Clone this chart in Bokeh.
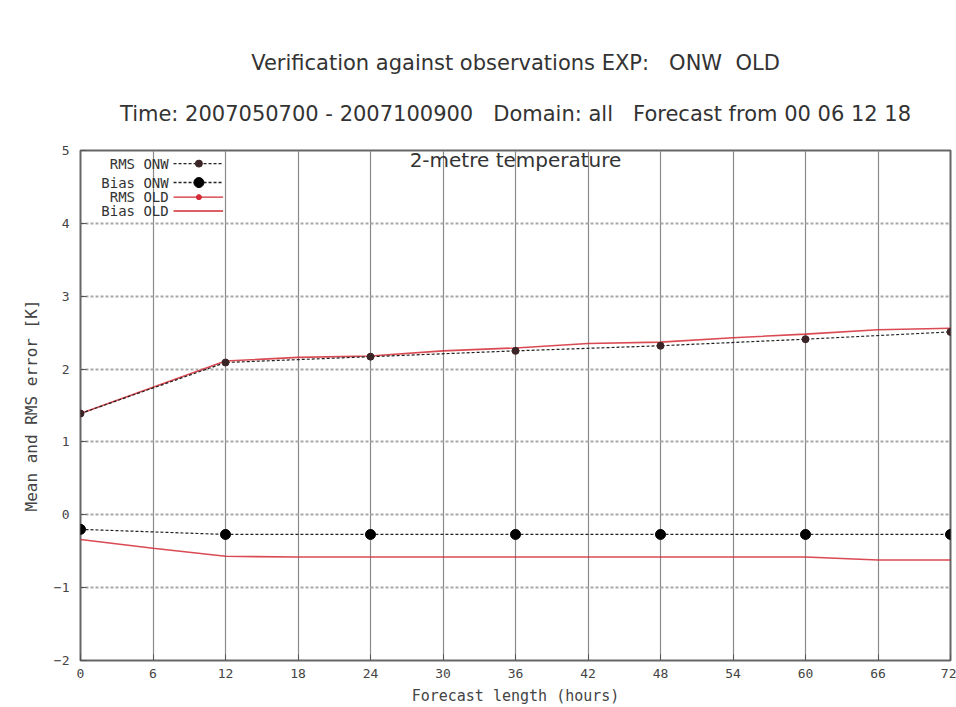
from bokeh.plotting import figure
from bokeh.models import Range1d, FixedTicker, Title, Label, ColumnDataSource
from bokeh.core.properties import value
from bokeh.embed import file_html
from bokeh.resources import INLINE

# ---- data ----
hours_onw = [0, 12, 24, 36, 48, 60, 72]
rms_onw = [1.39, 2.09, 2.17, 2.25, 2.32, 2.41, 2.51]
bias_onw = [-0.20, -0.27, -0.27, -0.27, -0.27, -0.27, -0.27]

hours_old = [0, 6, 12, 18, 24, 30, 36, 42, 48, 54, 60, 66, 72]
rms_old = [1.39, 1.75, 2.11, 2.16, 2.18, 2.25, 2.29, 2.35, 2.37, 2.43, 2.48, 2.54, 2.56]
bias_old = [-0.34, -0.46, -0.57, -0.58, -0.58, -0.58, -0.58, -0.58, -0.58, -0.58, -0.58, -0.62, -0.62]

x_ticks = [0, 6, 12, 18, 24, 30, 36, 42, 48, 54, 60, 66, 72]
y_ticks = [-2, -1, 0, 1, 2, 3, 4, 5]

legend_labels = ["RMS ONW", "Bias ONW", "RMS OLD", "Bias OLD"]

NB = "\u00a0"
title1 = "Verification against observations EXP:" + NB * 3 + "ONW" + NB * 2 + "OLD"
title2 = ("Time: 2007050700 - 2007100900" + NB * 3 + "Domain: all" + NB * 3 +
          "Forecast from 00 06 12 18")
subtitle = "2-metre temperature"
xlabel = "Forecast length (hours)"
ylabel = "Mean and RMS error [K]"

MONO = "DejaVu Sans Mono"
SANS = "DejaVu Sans"
RED = "#d42a35"

p = figure(width=956, height=707, output_backend="svg", toolbar_location=None,
           x_range=Range1d(0, 72), y_range=Range1d(-2, 5),
           min_border_left=80, min_border_right=6, min_border_top=150, min_border_bottom=47)

# outer title line
p.title.text = title1
p.title.align = "center"
p.title.text_font = SANS
p.title.text_font_size = "21px"
p.title.text_font_style = "normal"
p.title.text_color = "#333333"
p.title.standoff = 0
# inner title line (closest to the frame)
p.add_layout(Title(text=title2, align="center", text_font=SANS, text_font_size="21px",
                   text_font_style="normal", text_color="#333333", standoff=50), "above")

p.outline_line_color = "#666666"
p.outline_line_width = 2

for ax in (p.xaxis, p.yaxis):
    ax.axis_line_color = None
    ax.major_tick_in = 6
    ax.major_tick_out = 0
    ax.minor_tick_line_color = None
    ax.major_tick_line_color = "#555555"
    ax.major_label_text_font = MONO
    ax.major_label_text_font_size = "13px"
    ax.major_label_text_color = "#444444"
    ax.axis_label_text_font = MONO
    ax.axis_label_text_font_size = "15px"
    ax.axis_label_text_font_style = "normal"
    ax.axis_label_text_color = "#444444"

p.yaxis.axis_label_text_font_size = "16px"
p.xaxis.ticker = FixedTicker(ticks=x_ticks)
p.yaxis.ticker = FixedTicker(ticks=y_ticks)
p.xaxis.major_label_standoff = 8
p.yaxis.major_label_standoff = 11
p.xaxis.axis_label = xlabel
p.yaxis.axis_label = ylabel
p.xaxis.axis_label_standoff = 6
p.yaxis.axis_label_standoff = 10

p.xgrid.ticker = FixedTicker(ticks=x_ticks)
p.ygrid.ticker = FixedTicker(ticks=y_ticks)
p.xgrid.grid_line_color = "#8a8a8a"
p.xgrid.grid_line_width = 1.2
p.ygrid.grid_line_color = "#a8a8a8"
p.ygrid.grid_line_width = 2
p.ygrid.grid_line_dash = "3 2"

# ---- series ----
p.line(hours_old, rms_old, line_color=RED, line_width=1.6, line_alpha=0.85)
p.line(hours_old, bias_old, line_color=RED, line_width=1.6, line_alpha=0.85)

p.line(hours_onw, rms_onw, line_color="#222222", line_width=1.2, line_dash="3 2")
p.scatter(hours_onw, rms_onw, marker="circle", size=7, fill_color="#3a2426", line_color="#3a2426")
p.line(hours_onw, bias_onw, line_color="#222222", line_width=1.2, line_dash="3 2")
p.scatter(hours_onw, bias_onw, marker="circle", size=10, fill_color="black", line_color="black")

# ---- subtitle inside plot ----
p.add_layout(Label(x=36, y=5, y_offset=3, text=subtitle, text_align="center", text_baseline="top",
                   text_font=SANS, text_font_size="20px", text_color="#333333"))

# ---- gnuplot style key (label then sample) ----
key_y = [4.82, 4.56, 4.36, 4.17]
src = ColumnDataSource(dict(x=[7.3] * 4, y=key_y, t=legend_labels))
p.text(x="x", y="y", text="t", source=src, text_align="right", text_baseline="middle",
       text_font=value(MONO), text_font_size="14px", text_color="#333333")
styles = [("#222222", "3 2", 7, "#3a2426"), ("#222222", "3 2", 10, "black"),
          (RED, "solid", 5, RED), (RED, "solid", 0, RED)]
for yy, (col, dash, msize, mcol) in zip(key_y, styles):
    p.line([7.7, 11.8], [yy, yy], line_color=col, line_dash=dash, line_width=1.4)
    if msize:
        p.scatter([9.8], [yy], marker="circle", size=msize, fill_color=mcol, line_color=mcol)

open("out.html", "w").write(file_html(p, INLINE))
